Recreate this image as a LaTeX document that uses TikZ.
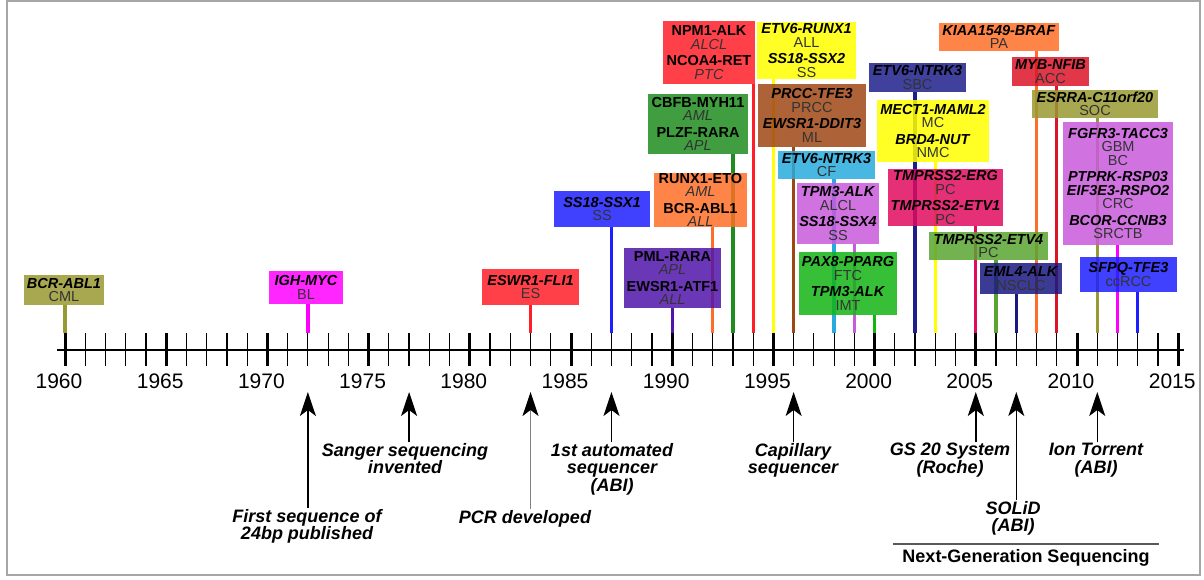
\documentclass[tikz,border=0pt]{standalone}
\usepackage{fontspec}
\setmainfont{Liberation Sans}
\usetikzlibrary{arrows.meta,backgrounds}

\definecolor{cOlive}{RGB}{153,153,51}
\definecolor{cMagenta}{RGB}{255,0,255}
\definecolor{cRed}{RGB}{255,30,40}
\definecolor{cRedB}{RGB}{220,20,40}
\definecolor{cBlue}{RGB}{30,30,255}
\definecolor{cPurple}{RGB}{80,20,170}
\definecolor{cOrange}{RGB}{255,110,40}
\definecolor{cGreen}{RGB}{30,140,30}
\definecolor{cYellow}{RGB}{255,255,0}
\definecolor{cBrown}{RGB}{160,70,20}
\definecolor{cCyan}{RGB}{40,170,220}
\definecolor{cOrchid}{RGB}{200,90,220}
\definecolor{cLime}{RGB}{20,180,20}
\definecolor{cIndigo}{RGB}{30,30,140}
\definecolor{cCrimson}{RGB}{225,10,95}
\definecolor{cGreenLt}{RGB}{90,165,50}
\definecolor{cNavy}{RGB}{25,25,130}

\newcommand{\boxfont}{\fontsize{14.5}{13.5}\selectfont}
\newcommand{\evfont}{\fontsize{18}{17.5}\selectfont\bfseries\itshape}
\newcommand{\yearfont}{\fontsize{21}{21}\selectfont}
\newcommand{\ngsfont}{\fontsize{18}{18}\selectfont\bfseries}
\newcommand{\fus}[1]{\textbf{\textit{#1}}}
\newcommand{\fusup}[1]{\textbf{#1}}
\newcommand{\dis}[1]{{\color{black!80}#1}}
\newcommand{\disit}[1]{{\color{black!80}\textit{#1}}}

\tikzset{
  fusion/.style={fill=#1, fill opacity=0.85, text opacity=1, inner sep=0pt, align=center, font=\boxfont},
  stem/.style={draw=#1, line width=3.3pt},
  event/.style={font=\evfont, align=center, anchor=north, inner sep=1pt},
  evarrow/.style={line width=1.5pt, -{Stealth[length=24pt,width=16pt,inset=6pt,color=black]}},
}

\begin{document}
\begin{tikzpicture}[x=1pt, y=-1pt]
	\useasboundingbox (0,0) rectangle (1204,580);
	% Frame
	\draw[gray!70, line width=1.2pt] (7,1) rectangle (1200,575);

	% Time line
	\draw[line width=2pt] (57,350) -- (1184,350);
	\foreach \yr in {1960,...,2015}{
		\coordinate (t\yr) at ({65+(\yr-1960)*20.24},333);
		\draw[line width=1.2pt] (t\yr) -- ++(0,33);
	}
	\foreach \yr in {1960,1965,...,2015}{
		\draw[line width=3pt] (t\yr) -- ++(0,33);
		\node[font=\yearfont] (l\yr) at ({59+(\yr-1960)*20.24},381) {\yr};
	}

	% Fusion genes
	\node[fusion=cOlive, minimum width=80pt, minimum height=30pt] (bcrabl) at (64,290) {\fus{BCR-ABL1}\\\dis{CML}};
	\node[fusion=cMagenta, minimum width=74pt, minimum height=33pt] (ighmyc) at (306,287.5) {\fus{IGH-MYC}\\\dis{BL}};
	\node[fusion=cRed, minimum width=97pt, minimum height=36pt] (ewsfli) at (530.5,287) {\fus{ESWR1-FLI1}\\\dis{ES}};
	\node[fusion=cBlue, minimum width=96pt, minimum height=36pt] (ssx1) at (602,209) {\fus{SS18-SSX1}\\\dis{SS}};
	\node[fusion=cPurple, minimum width=97pt, minimum height=60pt] (pmlrara) at (672.5,278) {\fusup{PML-RARA}\\\disit{APL}\\[3pt]\fusup{EWSR1-ATF1}\\\disit{ALL}};
	\node[fusion=cOrange, minimum width=93pt, minimum height=54pt] (runx1) at (700.5,200) {\fusup{RUNX1-ETO}\\\disit{AML}\\[3pt]\fusup{BCR-ABL1}\\\disit{ALL}};
	\node[fusion=cGreen, minimum width=100pt, minimum height=60pt] (cbfb) at (698,124) {\fusup{CBFB-MYH11}\\\disit{AML}\\[3pt]\fusup{PLZF-RARA}\\\disit{APL}};
	\node[fusion=cRed, minimum width=92pt, minimum height=63pt] (npm1) at (709,52.5) {\fusup{NPM1-ALK}\\\disit{ALCL}\\[3pt]\fusup{NCOA4-RET}\\\disit{PTC}};
	\node[fusion=cYellow, minimum width=99pt, minimum height=57pt] (etvrunx) at (806.5,50.5) {\fus{ETV6-RUNX1}\\\dis{ALL}\\[3pt]\fus{SS18-SSX2}\\\dis{SS}};
	\node[fusion=cBrown, minimum width=108pt, minimum height=63pt] (prcc) at (812,115.5) {\fus{PRCC-TFE3}\\\dis{PRCC}\\[3pt]\fus{EWSR1-DDIT3}\\\dis{ML}};
	\node[fusion=cCyan, minimum width=97pt, minimum height=28pt] (etvcf) at (826.5,165) {\fus{ETV6-NTRK3}\\\dis{CF}};
	\node[fusion=cOrchid, minimum width=82pt, minimum height=61pt] (tpmalcl) at (838,213.5) {\fus{TPM3-ALK}\\\dis{ALCL}\\[3pt]\fus{SS18-SSX4}\\\dis{SS}};
	\node[fusion=cLime, minimum width=98pt, minimum height=63pt] (pax8) at (848,283.5) {\fus{PAX8-PPARG}\\\dis{FTC}\\[3pt]\fus{TPM3-ALK}\\\dis{IMT}};
	\node[fusion=cIndigo, minimum width=97pt, minimum height=29pt] (etvsbc) at (917.5,77.5) {\fus{ETV6-NTRK3}\\\dis{SBC}};
	\node[fusion=cYellow, minimum width=112pt, minimum height=62pt] (mect1) at (933,131) {\fus{MECT1-MAML2}\\\dis{MC}\\[3pt]\fus{BRD4-NUT}\\\dis{NMC}};
	\node[fusion=cCrimson, minimum width=115pt, minimum height=57pt] (tmperg) at (945.5,197.5) {\fus{TMPRSS2-ERG}\\\dis{PC}\\[3pt]\fus{TMPRSS2-ETV1}\\\dis{PC}};
	\node[fusion=cGreenLt, minimum width=119pt, minimum height=28pt] (tmpetv4) at (988.5,246) {\fus{TMPRSS2-ETV4}\\\dis{PC}};
	\node[fusion=cNavy, minimum width=82pt, minimum height=31pt] (eml4) at (1021,278.5) {\fus{EML4-ALK}\\\dis{NSCLC}};
	\node[fusion=cOrange, minimum width=120pt, minimum height=28pt] (kiaa) at (999,37) {\fus{KIAA1549-BRAF}\\\dis{PA}};
	\node[fusion=cRedB, minimum width=77pt, minimum height=29pt] (mybnfib) at (1050.5,71.5) {\fus{MYB-NFIB}\\\dis{ACC}};
	\node[fusion=cOlive, minimum width=126pt, minimum height=28pt] (esrra) at (1095,104) {\fus{ESRRA-C11orf20}\\\dis{SOC}};
	\node[fusion=cOrchid, minimum width=110pt, minimum height=123pt] (fgfr3) at (1118,183.5) {\fus{FGFR3-TACC3}\\\dis{GBM}\\\dis{BC}\\[3pt]\fus{PTPRK-RSP03}\\\fus{EIF3E3-RSPO2}\\\dis{CRC}\\[3pt]\fus{BCOR-CCNB3}\\\dis{SRCTB}};
	\node[fusion=cBlue, minimum width=97pt, minimum height=35pt] (sfpq) at (1128.5,274.5) {\fus{SFPQ-TFE3}\\\dis{ccRCC}};

	% Stems behind the boxes
	\begin{pgfonlayer}{background}
		\foreach \b/\yr/\c in {bcrabl/1960/cOlive, ighmyc/1972/cMagenta, ewsfli/1983/cRed,
			ssx1/1987/cBlue, pmlrara/1990/cPurple, runx1/1992/cOrange, cbfb/1993/cGreen,
			npm1/1994/cRed, etvrunx/1995/cYellow, prcc/1996/cBrown, etvcf/1998/cCyan,
			tpmalcl/1999/cOrchid, pax8/2000/cLime, etvsbc/2002/cIndigo, mect1/2003/cYellow,
			tmperg/2005/cCrimson, tmpetv4/2006/cGreenLt, eml4/2007/cNavy, kiaa/2008/cOrange,
			mybnfib/2009/cRedB, esrra/2011/cOlive, fgfr3/2012/cMagenta, sfpq/2013/cBlue}
			\draw[stem=\c] (\b.south -| t\yr) -- (t\yr);
	\end{pgfonlayer}

	% Sequencing milestones
	\foreach \yr in {1972,1977,1983,1987,1996,2005,2007,2011}
		\coordinate (a\yr) at (t\yr |- 0,392);
	\node[event] (ev1972) at (307,508) {First sequence of\\24bp published};
	\node[event] (ev1977) at (405,442) {Sanger sequencing\\invented};
	\node[event] (ev1983) at (525,509) {PCR developed};
	\node[event] (ev1987) at (612,442) {1st automated\\sequencer\\(ABI)};
	\node[event] (ev1996) at (793,442) {Capillary\\sequencer};
	\node[event] (ev2005) at (950,442) {GS 20 System\\(Roche)};
	\node[event] (ev2007) at (1013,500) {SOLiD\\(ABI)};
	\node[event] (ev2011) at (1096,442) {Ion Torrent\\(ABI)};
	\foreach \yr in {1972,1977,1987,1996,2005,2007,2011}
		\draw[evarrow] (ev\yr.north -| a\yr) -- (a\yr);
	\draw[evarrow, draw=black!50] (ev1983.north -| a1983) -- (a1983);

	% Next-generation bracket
	\coordinate (ngsL) at (893,544);
	\coordinate (ngsR) at (1159,544);
	\draw[black!65, line width=1.8pt] (ngsL) -- (ngsR);
	\node[font=\ngsfont] (ngs) at (1026,558) {Next-Generation Sequencing};
\end{tikzpicture}
\end{document}
